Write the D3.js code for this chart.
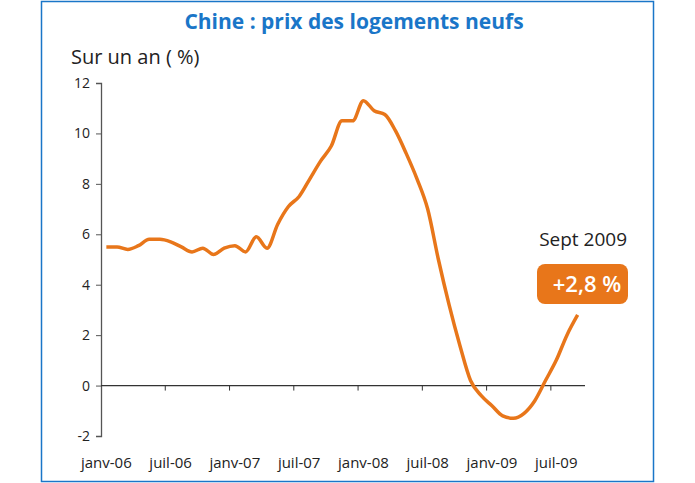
<!DOCTYPE html>
<html><head><meta charset="utf-8">
<script src="https://cdn.jsdelivr.net/npm/d3@7"></script>
<style>body{margin:0;background:#fff}svg{display:block}text{font-family:"Open Sans",sans-serif}</style>
</head><body><svg id="c" width="695" height="483"></svg>
<script>
const months = [];
const monthNames = ["janv","févr","mars","avr","mai","juin","juil","août","sept","oct","nov","déc"];
const years = ["06","07","08","09"];
const values = [
 5.5,5.5,5.4,5.55,5.8,5.8,5.7,5.5,5.3,5.45,5.2,5.45,
 5.55,5.3,5.9,5.45,6.4,7.1,7.5,8.2,8.9,9.5,10.5,10.5,
 11.3,10.9,10.75,10.1,9.2,8.2,7.0,5.0,3.2,1.6,0.2,-0.4,
 -0.8,-1.2,-1.3,-1.1,-0.6,0.2,1.0,2.0,2.8];
years.forEach(y=>monthNames.forEach(m=>months.push(m+"-"+y)));
const cats = months.slice(0, values.length);
const yTicks = [-2,0,2,4,6,8,10,12];
const title = "Chine : prix des logements neufs";

const svg = d3.select("#c");
const orange = "#e8761a", blue = "#1a76c8";
svg.append("rect").attr("x",41.5).attr("y",1.5).attr("width",612).attr("height",480)
  .attr("fill","none").attr("stroke",blue).attr("stroke-width",1.5);
svg.append("text").attr("x",354).attr("y",29).attr("text-anchor","middle")
  .attr("fill",blue).attr("font-size",21).attr("font-weight",700).text(title);
svg.append("text").attr("x",71).attr("y",64).attr("font-size",20).attr("fill","#222").text("Sur un an ( %)");

const x = d3.scaleBand().domain(cats).range([101,583]);
const y = d3.scaleLinear().domain([-2,12]).range([436,83]);

const ya = svg.append("g").attr("transform","translate(101,0)")
  .call(d3.axisLeft(y).tickValues(yTicks).tickSize(5).tickPadding(6).tickFormat(d=>String(d)));
ya.select(".domain").attr("stroke","#555").attr("stroke-width",1.3);
ya.selectAll("line").attr("stroke","#555");
ya.selectAll("text").attr("font-size",14).attr("fill","#222");

const xa = svg.append("g").attr("transform",`translate(0,${y(0)})`)
  .call(d3.axisBottom(x).tickValues(cats.filter((d,i)=>i%6===0&&i>0)).tickSize(5).tickFormat(""));
xa.select(".domain").attr("d",`M101,0H585`).attr("stroke","#333").attr("stroke-width",1.3);
xa.selectAll(".tick").attr("transform",d=>`translate(${x(d)},0)`);
xa.selectAll("line").attr("stroke","#333");

svg.append("g").selectAll("text").data(cats.filter((d,i)=>i%6===0)).join("text")
  .attr("x",d=>x(d)+x.bandwidth()/2).attr("y",468).attr("text-anchor","middle")
  .attr("font-size",15).attr("fill","#222").text(d=>d);

const line = d3.line().x((d,i)=>x(cats[i])+x.bandwidth()/2).y(d=>y(d)).curve(d3.curveMonotoneX);
svg.append("path").datum(values).attr("d",line).attr("fill","none")
  .attr("stroke",orange).attr("stroke-width",3.5).attr("stroke-linejoin","round");

svg.append("text").attr("x",627).attr("y",246).attr("text-anchor","end").attr("font-size",19).attr("fill","#222").text("Sept 2009");
svg.append("rect").attr("x",537).attr("y",264).attr("width",91).attr("height",40).attr("rx",8).attr("fill",orange);
svg.append("text").attr("x",587).attr("y",292).attr("text-anchor","middle").attr("font-size",22).attr("font-weight",600)
  .attr("fill","#fff").text("+" + d3.format(".1f")(values[values.length-1]).replace(".",",") + " %");
</script></body></html>
